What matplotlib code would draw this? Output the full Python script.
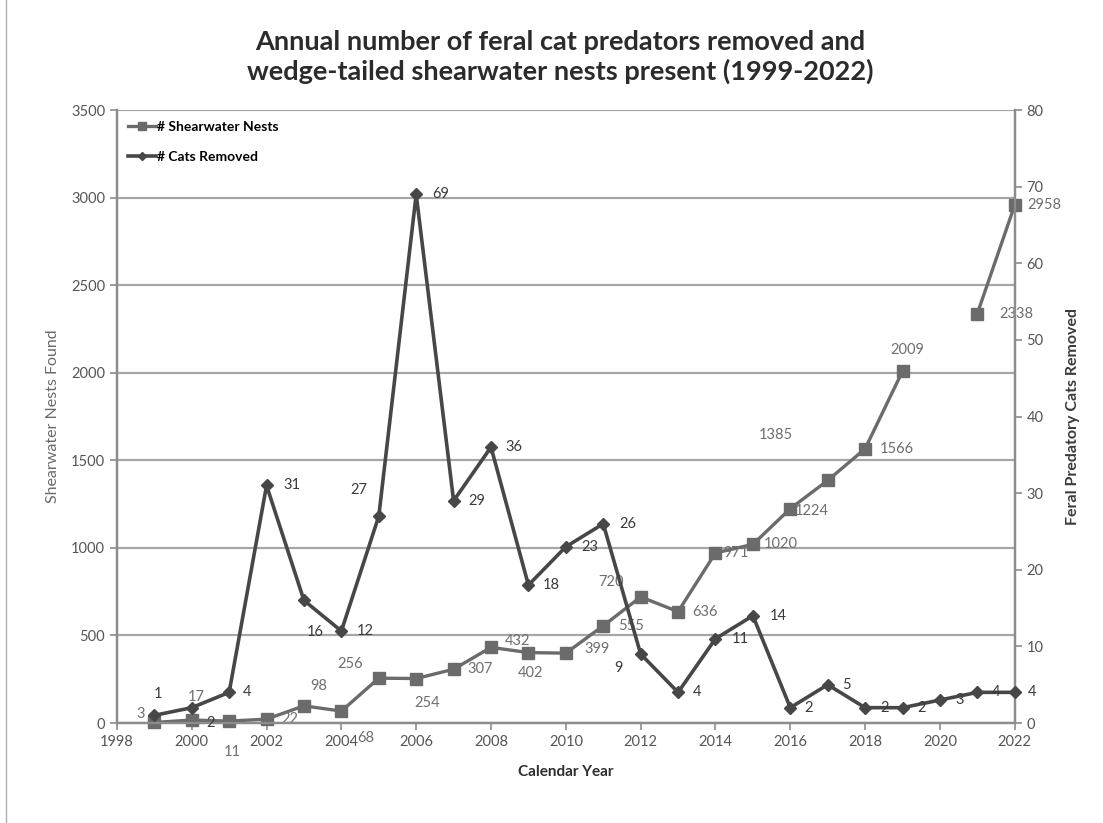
import numpy as np
import matplotlib.pyplot as plt
from matplotlib.patches import Rectangle

plt.rcParams['font.family'] = ['Lato', 'DejaVu Sans']

years = list(range(1999, 2023))
nests = [3, 17, 11, 22, 98, 68, 256, 254, 307, 432, 402, 399, 555, 720,
         636, 971, 1020, 1224, 1385, 1566, 2009, np.nan, 2338, 2958]
cats = [1, 2, 4, 31, 16, 12, 27, 69, 29, 36, 18, 23, 26, 9,
        4, 11, 14, 2, 5, 2, 2, 3, 4, 4]

# label offsets in pixels (dx, dy up)
nest_off = [(-14, 8), (5, 23), (3, -31), (23, 0), (15, 20), (24, -27), (-29, 14),
            (11, -24), (27, 0), (27, 6), (2, -20), (31, 4), (28, 0), (-30, 15),
            (27, 0), (20, 0), (28, 0), (21, -2), (-52, 45), (32, 0), (5, 21),
            (0, 0), (39, 0), (30, 0)]
cat_off = [(4, 21), (19, -15), (18, 0), (25, 0), (11, -32), (24, 0), (-20, 26),
           (24, 0), (23, 0), (23, 0), (23, 0), (24, 0), (25, 0), (-22, -14),
           (19, 0), (25, 0), (25, 0), (18, 0), (19, 0), (19, 0), (19, 0),
           (20, 0), (19, 0), (17, 0)]

nest_col = '#6b6b6b'
cat_col = '#474747'

fig = plt.figure(figsize=(11.03, 8.23), dpi=100)
ax = fig.add_axes([0.106, 0.1215, 0.814, 0.7448])
ax2 = ax.twinx()

ax.set_xlim(1998, 2022)
ax.set_ylim(0, 3500)
ax2.set_ylim(0, 80)
ax.set_yticks(range(0, 3501, 500))
ax2.set_yticks(range(0, 81, 10))
ax.set_xticks(range(1998, 2023, 2))

ax.grid(axis='y', color='#a6a6a6', lw=1.6)
ax.set_axisbelow(True)

l1, = ax.plot(years, nests, color=nest_col, lw=2.4, marker='s', ms=8.5,
              label='# Shearwater Nests', clip_on=False, zorder=3)
l2, = ax2.plot(years, cats, color=cat_col, lw=2.6, marker='D', ms=6,
               label='# Cats Removed', clip_on=False, zorder=3)

for x, v, o in zip(years, nests, nest_off):
    if np.isnan(v):
        continue
    ax.annotate(str(int(v)), (x, v), xytext=o, textcoords='offset pixels',
                ha='center', va='center', fontsize=10.5, color='#6e6e6e',
                annotation_clip=False)
for x, v, o in zip(years, cats, cat_off):
    ax2.annotate(str(v), (x, v), xytext=o, textcoords='offset pixels',
                 ha='center', va='center', fontsize=10.5, color='#3a3a3a',
                 annotation_clip=False)

for a in (ax, ax2):
    a.spines['top'].set_visible(False)
    for s in ('left', 'right', 'bottom'):
        a.spines[s].set_color('#8c8c8c')
        a.spines[s].set_linewidth(1.6)
    a.tick_params(colors='#8c8c8c', labelcolor='#555555', labelsize=10.5,
                  length=5, width=1.2)

ax.set_ylabel('Shearwater Nests Found', fontsize=11.5, color='#6a6a6a', labelpad=8)
ax2.set_ylabel('Feral Predatory Cats Removed', fontsize=11.5, color='#3a3a3a',
               fontweight='bold', labelpad=16)
ax.set_xlabel('Calendar Year', fontsize=11, color='#2e2e2e', fontweight='bold',
              labelpad=12)

ax.legend([l1, l2], ['# Shearwater Nests', '# Cats Removed'], loc='upper left',
          frameon=False, labelspacing=1.3, handlelength=2.0,
          handletextpad=0.1, borderaxespad=0.4, markerscale=0.7,
          prop={'weight': 'bold', 'size': 10})

fig.suptitle('Annual number of feral cat predators removed and\n'
             'wedge-tailed shearwater nests present (1999-2022)',
             x=0.508, y=0.963, fontsize=19.5, fontweight='bold', color='#2b2b2b',
             linespacing=1.2)

fig.patches.append(Rectangle((0.005, -0.01), 1.0, 1.02, transform=fig.transFigure,
                             fill=False, edgecolor='#b0b0b0', lw=1))

fig.savefig('out.png', dpi=100)
